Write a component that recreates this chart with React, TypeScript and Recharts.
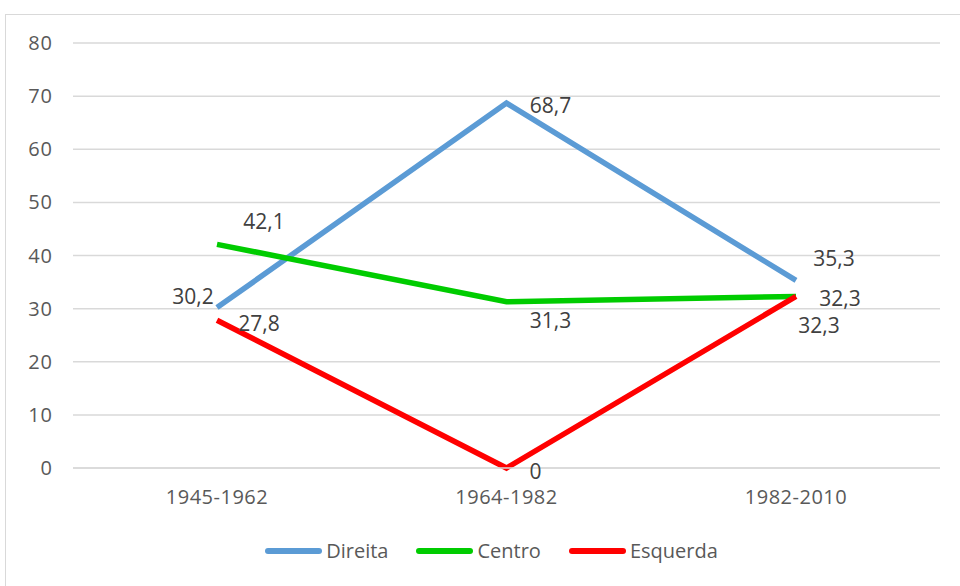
import React from 'react'
import { LineChart, Line, XAxis, YAxis, CartesianGrid, LabelList } from 'recharts'

// periods on the x axis
const periods = ['1945-1962', '1964-1982', '1982-2010']

// values per series
const direita = [30.2, 68.7, 35.3]
const centro = [42.1, 31.3, 32.3]
const esquerda = [27.8, 0, 32.3]

const yTicks = [0, 10, 20, 30, 40, 50, 60, 70, 80]

const series = [
  { key: 'Direita', values: direita, color: '#5B9BD5' },
  { key: 'Centro', values: centro, color: '#00CC00' },
  { key: 'Esquerda', values: esquerda, color: '#FF0000' },
]

const data = periods.map((p, i) => ({
  period: p,
  Direita: direita[i],
  Centro: centro[i],
  Esquerda: esquerda[i],
}))

// where each value label sits relative to its point (px)
const labelOffsets: Record<string, [number, number][]> = {
  Direita: [[-24, -12], [44, 2], [38, -22]],
  Centro: [[47, -23], [44, 18], [44, 2]],
  Esquerda: [[42, 3], [29, 3], [23, 29]],
}

const FONT = '"Open Sans", "Liberation Sans", sans-serif'

const fmt = (v: number) => String(v).replace('.', ',')

function makeLabel(name: string) {
  return (props: any) => {
    const { x, y, value, index } = props
    const [dx, dy] = labelOffsets[name][index] || [0, 0]
    return (
      <text
        x={x + dx}
        y={y + dy}
        textAnchor="middle"
        dominantBaseline="central"
        fontSize={21}
        fontFamily={FONT}
        fill="#404040"
      >
        {fmt(value)}
      </text>
    )
  }
}

export default function App() {
  return (
    <div
      style={{
        position: 'absolute',
        left: 5,
        top: 14,
        width: 960,
        height: 580,
        border: '1px solid #d9d9d9',
        background: '#fff',
        fontFamily: FONT,
      }}
    >
      <LineChart
        width={955}
        height={572}
        data={data}
        margin={{ top: 28, right: 21, left: 0, bottom: 89 }}
      >
        <CartesianGrid stroke="#d9d9d9" strokeWidth={1.5} vertical={false} />
        <XAxis
          dataKey="period"
          height={30}
          padding={{ left: 144, right: 144 }}
          tickLine={false}
          axisLine={{ stroke: '#d9d9d9', strokeWidth: 1.5 }}
          tickMargin={16}
          tick={{ fill: '#595959', fontSize: 20, fontFamily: FONT, letterSpacing: 0.5 }}
        />
        <YAxis
          width={67}
          domain={[0, 80]}
          ticks={yTicks}
          tickLine={false}
          axisLine={false}
          tickMargin={14}
          tick={{ fill: '#595959', fontSize: 20, fontFamily: FONT, letterSpacing: 1 }}
        />
        {series.map((s) => (
          <Line
            key={s.key}
            type="linear"
            dataKey={s.key}
            stroke={s.color}
            strokeWidth={5.5}
            dot={false}
            activeDot={false}
            isAnimationActive={false}
          >
            <LabelList dataKey={s.key} content={makeLabel(s.key)} />
          </Line>
        ))}
      </LineChart>
      <div
        style={{
          position: 'absolute',
          top: 522,
          left: 0,
          width: 971,
          display: 'flex',
          justifyContent: 'center',
          gap: 28,
          fontSize: 20,
          color: '#595959',
        }}
      >
        {series.map((s) => (
          <div key={s.key} style={{ display: 'flex', alignItems: 'center' }}>
            <span
              style={{
                display: 'inline-block',
                width: 57,
                height: 6,
                borderRadius: 3,
                background: s.color,
                marginRight: 4,
              }}
            />
            <span>{s.key}</span>
          </div>
        ))}
      </div>
    </div>
  )
}
